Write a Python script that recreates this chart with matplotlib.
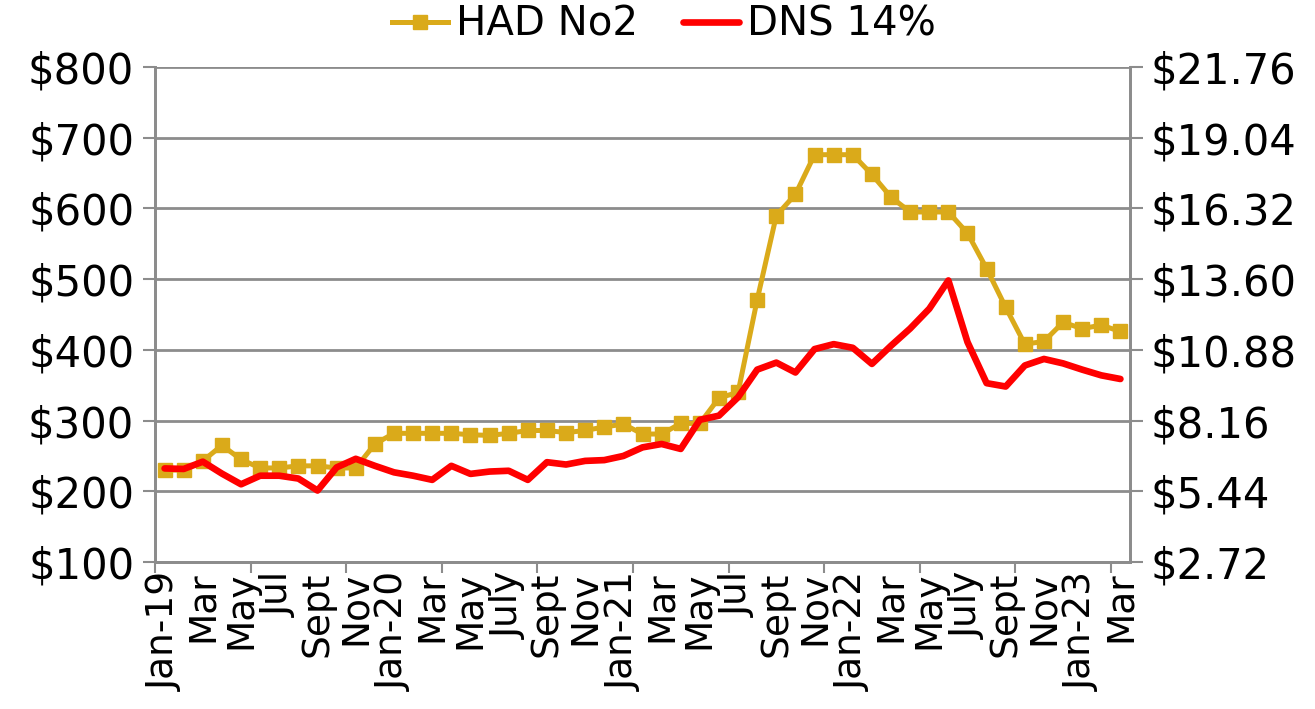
import matplotlib
matplotlib.use('Agg')
import matplotlib.pyplot as plt
from matplotlib.ticker import FixedLocator

months = ['Jan-19', 'Feb', 'Mar', 'Apr', 'May', 'Jun', 'Jul', 'Aug', 'Sept', 'Oct', 'Nov', 'Dec',
          'Jan-20', 'Feb', 'Mar', 'Apr', 'May', 'Jun', 'July', 'Aug', 'Sept', 'Oct', 'Nov', 'Dec',
          'Jan-21', 'Feb', 'Mar', 'Apr', 'May', 'Jun', 'Jul', 'Aug', 'Sept', 'Oct', 'Nov', 'Dec',
          'Jan-22', 'Feb', 'Mar', 'Apr', 'May', 'Jun', 'July', 'Aug', 'Sept', 'Oct', 'Nov', 'Dec',
          'Jan-23', 'Feb', 'Mar']

# HAD No2, $/ton (left axis)
had_no2 = [230, 230, 243, 265, 245, 233, 233, 236, 236, 233, 233, 267,
           282, 282, 282, 282, 280, 279, 282, 286, 286, 283, 286, 291,
           295, 281, 281, 296, 296, 332, 340, 471, 590, 620, 676, 676,
           676, 648, 616, 595, 595, 595, 565, 515, 460, 408, 412, 439,
           430, 435, 426]

# DNS 14%, $/bu (right axis)
dns_14 = [6.32, 6.30, 6.58, 6.12, 5.71, 6.04, 6.04, 5.93, 5.47, 6.36, 6.69, 6.42,
          6.17, 6.04, 5.88, 6.42, 6.11, 6.20, 6.23, 5.88, 6.56, 6.47, 6.61, 6.64,
          6.80, 7.13, 7.26, 7.07, 8.19, 8.35, 9.06, 10.12, 10.39, 10.01, 10.91, 11.10,
          10.96, 10.34, 11.04, 11.70, 12.46, 13.55, 11.18, 9.60, 9.47, 10.28, 10.53, 10.36,
          10.12, 9.90, 9.76]

left_ticks = [100, 200, 300, 400, 500, 600, 700, 800]
right_ticks = [2.72, 5.44, 8.16, 10.88, 13.60, 16.32, 19.04, 21.76]

gold = '#DAAA1A'
grey = '#8C8C8C'
plt.rcParams['font.family'] = ['DejaVu Sans']

fig = plt.figure(figsize=(13.15, 7.09), dpi=100)
ax = fig.add_axes([0.1179, 0.2073, 0.7414, 0.6982])
ax2 = ax.twinx()

x = list(range(len(months)))
l1, = ax.plot(x, had_no2, color=gold, lw=3.6, marker='s', ms=10,
              markeredgecolor=gold, label='HAD No2')
l2, = ax2.plot(x, dns_14, color='#FF0000', lw=4.8, label='DNS 14%',
               solid_capstyle='round', solid_joinstyle='round')

ax.set_xlim(-0.5, len(months) - 0.5)
ax.set_ylim(100, 800)
ax2.set_ylim(2.72, 21.76)
ax.set_yticks(left_ticks)
ax.set_yticklabels(['$%d' % v for v in left_ticks])
ax2.set_yticks(right_ticks)
ax2.set_yticklabels(['$%.2f' % v for v in right_ticks])

ax.set_xticks(x[::2])
ax.set_xticklabels(months[::2], rotation=90, fontsize=27)
ax.xaxis.set_minor_locator(FixedLocator([i - 0.5 for i in range(0, len(months) + 1, 5)]))
ax.tick_params(axis='x', which='major', length=0, pad=7)
ax.tick_params(axis='x', which='minor', length=8, width=1.5, color=grey)

ax.tick_params(axis='y', labelsize=30, length=9, width=1.5, color=grey, pad=6)
ax2.tick_params(axis='y', labelsize=30, length=9, width=1.5, color=grey, pad=6)

ax.grid(axis='y', color=grey, lw=2)
ax.set_axisbelow(True)
for a in (ax, ax2):
    a.spines['top'].set_visible(False)
    for s in ('left', 'right', 'bottom'):
        a.spines[s].set_color(grey)
        a.spines[s].set_linewidth(2)

fig.legend(handles=[l1, l2], loc='center', bbox_to_anchor=(0.505, 0.965), ncol=2,
           frameon=False, fontsize=29, handlelength=1.4, handletextpad=0.2,
           columnspacing=1.1, markerscale=1.0)

fig.savefig('out.png', dpi=100)
